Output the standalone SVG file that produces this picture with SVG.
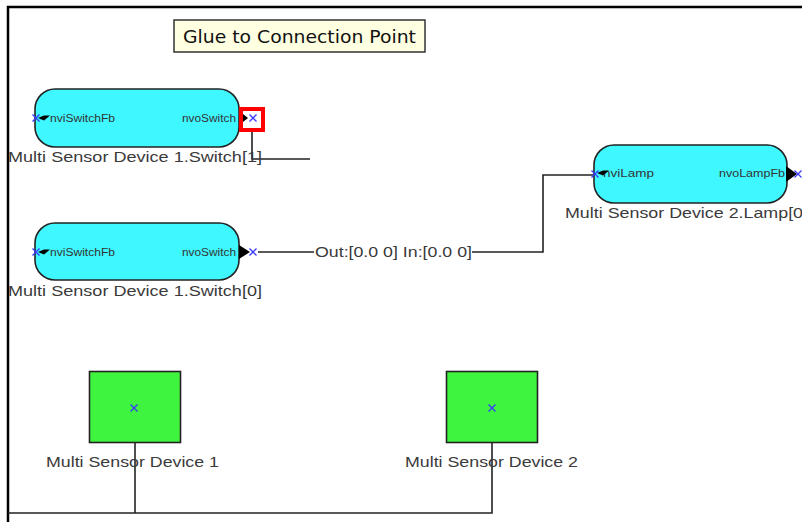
<svg xmlns="http://www.w3.org/2000/svg" width="802" height="522" viewBox="0 0 802 522">
<style>
.lbl{font-family:"Liberation Sans",Arial,sans-serif;font-size:15px;fill:#3a3a3a}
.port{font-family:"Liberation Sans",Arial,sans-serif;font-size:10px;fill:#333}
.fb{fill:#3ff8ff;stroke:#222;stroke-width:1.6}
.dev{fill:#3ff43f;stroke:#222;stroke-width:1.6}
.wire{fill:none;stroke:#222;stroke-width:1.6}
.x{stroke:#3a3aff;stroke-width:1.3;fill:none}
.ah{fill:#000}
</style>
<defs>
<g id="xm"><path class="x" d="M-3.5,-3.5L3.5,3.5M-3.5,3.5L3.5,-3.5"/></g>
</defs>
<rect x="0" y="0" width="802" height="522" fill="#fff"/>
<g id="frame"><path d="M8,522V7H802" fill="none" stroke="#000" stroke-width="2.5"/></g>
<g id="connectors">
<path class="wire" d="M252,130V159H310"/>
<path class="wire" d="M258,252H314"/>
<path class="wire" d="M472,252H543V175H594"/>
<path class="wire" d="M135,443V513"/>
<path class="wire" d="M492,443V513H8"/>
<text class="lbl" x="315" y="257" textLength="157" lengthAdjust="spacingAndGlyphs">Out:[0.0 0] In:[0.0 0]</text>
</g>
<g id="tooltip">
<rect x="174" y="20" width="251" height="32" fill="#ffffe1" stroke="#333" stroke-width="1.5"/>
<text x="183" y="43" font-family="'DejaVu Sans',Tahoma,sans-serif" font-size="18" fill="#111" textLength="233" lengthAdjust="spacingAndGlyphs">Glue to Connection Point</text>
</g>
<g id="switch1">
<rect class="fb" x="35" y="89" width="204" height="58" rx="20"/>
<text class="port" x="50" y="121.5" textLength="65" lengthAdjust="spacingAndGlyphs">nviSwitchFb</text>
<text class="port" x="182" y="121.5" textLength="54" lengthAdjust="spacingAndGlyphs">nvoSwitch</text>
<path class="ah" d="M38,118L44,115.5H50L44,120.5Z"/>
<use href="#xm" x="36" y="118"/>
<rect x="241" y="109" width="22" height="21" fill="#fff" stroke="#f00" stroke-width="4"/>
<path class="ah" d="M243,114L248,118L243,122Z"/>
<use href="#xm" x="253" y="118"/>
<text class="lbl" x="8" y="162" textLength="254" lengthAdjust="spacingAndGlyphs">Multi Sensor Device 1.Switch[1]</text>
</g>
<g id="switch0">
<rect class="fb" x="35" y="223" width="204" height="57" rx="20"/>
<text class="port" x="50" y="255.5" textLength="65" lengthAdjust="spacingAndGlyphs">nviSwitchFb</text>
<text class="port" x="182" y="255.5" textLength="54" lengthAdjust="spacingAndGlyphs">nvoSwitch</text>
<path class="ah" d="M38,252L44,249.5H50L44,254.5Z"/>
<use href="#xm" x="36" y="252"/>
<path class="ah" d="M239,245L250,252L239,259Z"/>
<use href="#xm" x="253" y="252"/>
<text class="lbl" x="8" y="296" textLength="254" lengthAdjust="spacingAndGlyphs">Multi Sensor Device 1.Switch[0]</text>
</g>
<g id="lamp0">
<rect class="fb" x="594" y="145" width="193" height="58" rx="20"/>
<text class="port" x="603" y="177" textLength="51" lengthAdjust="spacingAndGlyphs">nviLamp</text>
<text class="port" x="719" y="177" textLength="66" lengthAdjust="spacingAndGlyphs">nvoLampFb</text>
<path class="ah" d="M597,173L603,170.5H609L603,175.5Z"/>
<use href="#xm" x="595" y="174"/>
<path class="ah" d="M786,166L797,174L786,182Z"/>
<use href="#xm" x="798" y="174"/>
<text class="lbl" x="565" y="218" textLength="243" lengthAdjust="spacingAndGlyphs">Multi Sensor Device 2.Lamp[0]</text>
</g>
<g id="device1">
<rect class="dev" x="89.5" y="371.5" width="91" height="71"/>
<use href="#xm" x="134" y="408"/>
<text class="lbl" x="46" y="467" textLength="173" lengthAdjust="spacingAndGlyphs">Multi Sensor Device 1</text>
</g>
<g id="device2">
<rect class="dev" x="446.5" y="371.5" width="91" height="71"/>
<use href="#xm" x="492" y="408"/>
<text class="lbl" x="405" y="467" textLength="173" lengthAdjust="spacingAndGlyphs">Multi Sensor Device 2</text>
</g>
</svg>
